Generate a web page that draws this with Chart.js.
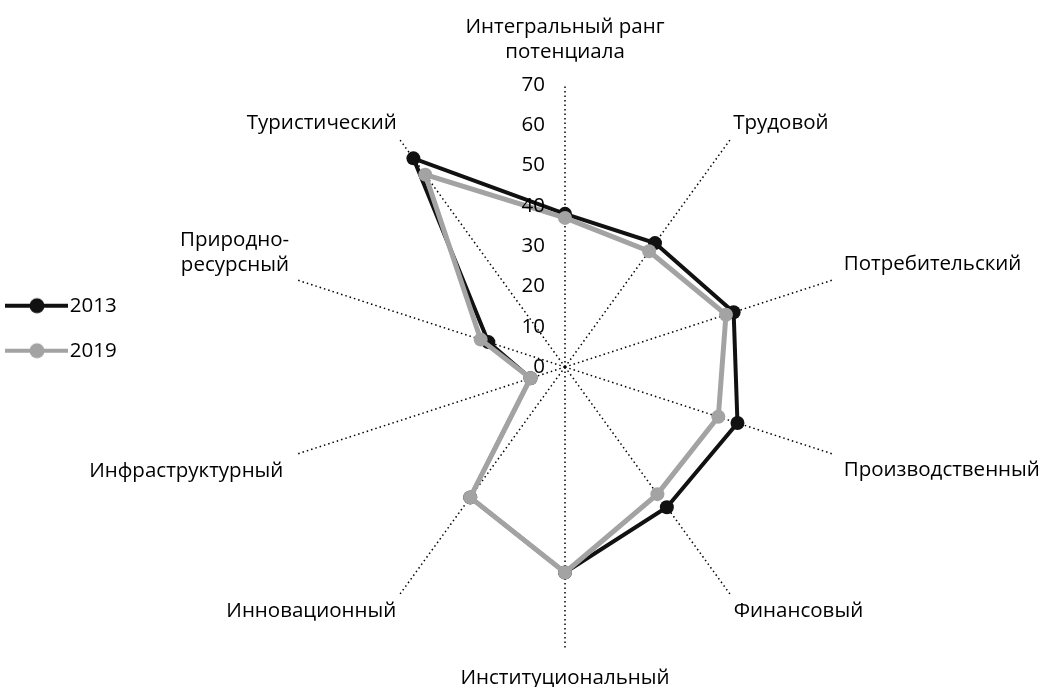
<!DOCTYPE html>
<html lang="ru">
<head>
<meta charset="utf-8">
<script src="https://cdn.jsdelivr.net/npm/chart.js@4/dist/chart.umd.min.js"></script>
<style>
  html, body { margin: 0; padding: 0; background: #fff; overflow: hidden; }
  /* the canvas is a bit larger than the window so the radar sits where the original has it */
  #wrap { width: 1130px; height: 705px; position: relative; }
</style>
</head>
<body>
<div id="wrap"><canvas id="radarChart"></canvas></div>
<script>
// axes of the radar, clockwise from the top
const categories = [
  ['Интегральный ранг', 'потенциала'],
  'Трудовой',
  'Потребительский',
  'Производственный',
  'Финансовый',
  'Институциональный',
  'Инновационный',
  'Инфраструктурный',
  ['Природно-', 'ресурсный'],
  'Туристический'
];
const values2013 = [38, 38, 44, 45, 43, 51, 40, 9, 20, 64];
const values2019 = [37, 35.5, 42, 40, 39, 51, 40, 9, 22, 59];
const tickValues = [0, 10, 20, 30, 40, 50, 60, 70];

const FONT = 'Open Sans';
const FSIZE = 20.5;
const BLACK = '#111111';
const GREY = '#a3a3a3';
// gap between the end of each spoke and its caption
const labelPad = [20.7, 4, 11, 11, 5, 16.7, 5, 14, 8, 4];

// small picture for the legend: line with a round marker (left-heavy so the text sits close)
function legendMark(color, lw) {
  const c = document.createElement('canvas');
  c.width = 74; c.height = 20;
  const g = c.getContext('2d');
  g.strokeStyle = color; g.lineWidth = lw;
  g.beginPath(); g.moveTo(0, 10); g.lineTo(63, 10); g.stroke();
  g.fillStyle = color;
  g.beginPath(); g.arc(32, 10, 7.5, 0, Math.PI * 2); g.fill();
  return c;
}
const marks = [legendMark(BLACK, 4), legendMark(GREY, 4)];

// tick numbers sit left of the vertical axis, like the original
const tickLabels = {
  id: 'tickLabels',
  afterDatasetsDraw(chart) {
    const r = chart.scales.r;
    const ctx = chart.ctx;
    ctx.save();
    ctx.font = FSIZE + 'px "' + FONT + '"';
    ctx.fillStyle = '#000';
    ctx.textAlign = 'right';
    ctx.textBaseline = 'middle';
    tickValues.forEach(v => {
      const p = r.getPointPositionForValue(0, v);
      ctx.fillText(String(v), p.x - 20, p.y);
    });
    ctx.restore();
  }
};

new Chart(document.getElementById('radarChart'), {
  type: 'radar',
  data: {
    labels: categories,
    datasets: [
      {
        label: '2013',
        data: values2013,
        borderColor: BLACK,
        backgroundColor: BLACK,
        borderWidth: 4,
        pointRadius: 7,
        pointBackgroundColor: BLACK,
        pointBorderWidth: 0,
        fill: false,
        order: 1
      },
      {
        label: '2019',
        data: values2019,
        borderColor: GREY,
        backgroundColor: GREY,
        borderWidth: 5,
        pointRadius: 7,
        pointBackgroundColor: GREY,
        pointBorderWidth: 0,
        fill: false,
        order: 0
      }
    ]
  },
  options: {
    responsive: true,
    maintainAspectRatio: false,
    animation: false,
    layout: { padding: { top: 1, bottom: 0, left: 0, right: 0 } },
    plugins: {
      tooltip: { enabled: false },
      legend: {
        position: 'chartArea',
        align: 'start',
        title: { display: true, text: '', font: { size: 10 }, padding: { top: 259, bottom: 0 } },
        labels: {
          usePointStyle: true,
          pointStyleWidth: 35,
          padding: 24.5,
          color: '#000',
          font: { family: FONT, size: FSIZE },
          sort: (a, b) => a.datasetIndex - b.datasetIndex,
          generateLabels(chart) {
            const items = Chart.defaults.plugins.legend.labels.generateLabels(chart);
            items.forEach(it => { it.pointStyle = marks[it.datasetIndex]; });
            return items;
          }
        }
      }
    },
    scales: {
      r: {
        min: 0,
        max: 70,
        ticks: { stepSize: 10, display: false },
        grid: { display: false },
        angleLines: {
          display: true,
          color: '#000',
          lineWidth: 1.5,
          borderDash: [1.5, 3]
        },
        pointLabels: {
          color: '#000',
          padding: ctx => labelPad[ctx.index],
          font: { family: FONT, size: FSIZE }
        }
      }
    }
  },
  plugins: [tickLabels]
});
</script>
</body>
</html>
